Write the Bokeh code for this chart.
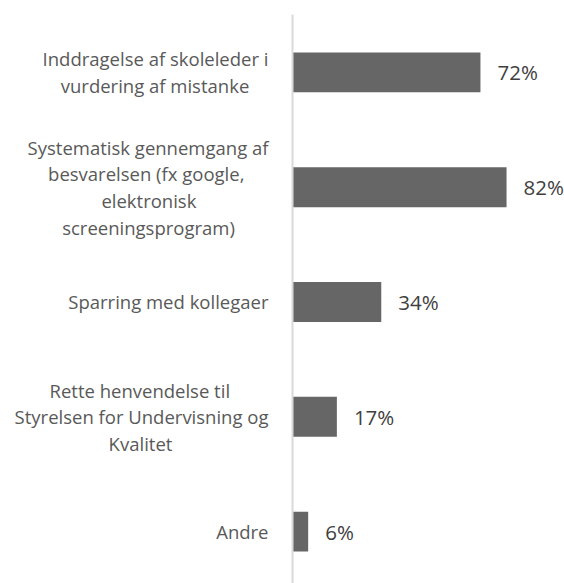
from bokeh.plotting import figure
from bokeh.models import Range1d, FixedTicker, ColumnDataSource
from bokeh.core.properties import value
from bokeh.embed import file_html
from bokeh.resources import INLINE

categories = [
    "Inddragelse af skoleleder i\nvurdering af mistanke",
    "Systematisk gennemgang af\nbesvarelsen (fx google,\nelektronisk\nscreeningsprogram)",
    "Sparring med kollegaer",
    "Rette henvendelse til\nStyrelsen for Undervisning og\nKvalitet",
    "Andre",
]
shares = [0.72, 0.82, 0.34, 0.17, 0.06]
share_labels = ["72%", "82%", "34%", "17%", "6%"]

FONT = "Open Sans"

# approximate Open Sans advance widths (em) used to centre the lines of a
# wrapped label inside its right-aligned block, as the original chart does
_W = {" ": .26, "a": .556, "b": .613, "c": .48, "d": .613, "e": .561, "f": .336,
      "g": .545, "h": .614, "i": .258, "j": .258, "k": .529, "l": .258, "m": .932,
      "n": .614, "o": .603, "p": .613, "r": .409, "s": .477, "t": .352, "u": .614,
      "v": .501, "y": .501, "x": .517, "z": .47, "(": .296, ")": .296, ",": .245,
      "A": .633, "K": .579, "R": .6, "S": .55, "I": .279, "U": .726}
NBSP = "\u00a0"


def _width(s):
    return sum(_W.get(ch, .56) for ch in s)


def centre_lines(label):
    lines = label.split("\n")
    wmax = max(_width(l) for l in lines)
    out = []
    for l in lines:
        pad = int(round((wmax - _width(l)) / 2 / _W[" "]))
        out.append(l + NBSP * pad)
    return "\n".join(out)


idx = list(range(len(categories)))
src = ColumnDataSource(dict(y=idx, v=shares, lab=share_labels))

p = figure(width=564, height=583, output_backend="svg", toolbar_location=None,
           x_range=Range1d(0, 1.042), y_range=Range1d(4.452, -0.504),
           min_border_left=292, min_border_right=0, min_border_top=14, min_border_bottom=0)

p.hbar(y="y", right="v", left=0, height=0.348, source=src,
       fill_color="#666666", line_color=None)
p.text(x="v", y="y", text="lab", source=src, x_offset=17,
       text_baseline="middle", text_align="left",
       text_font=value(FONT), text_font_size="20.5px", text_color="#404040")

p.xaxis.visible = False
p.xgrid.visible = False
p.ygrid.visible = False
p.outline_line_color = None

ax = p.yaxis[0]
ax.ticker = FixedTicker(ticks=idx)
ax.major_label_overrides = {i: centre_lines(c) for i, c in zip(idx, categories)}
ax.major_tick_line_color = None
ax.minor_tick_line_color = None
ax.major_tick_out = 0
ax.major_tick_in = 0
ax.major_label_standoff = 24
ax.axis_line_color = "#d9d9d9"
ax.axis_line_width = 2
ax.major_label_text_font = FONT
ax.major_label_text_font_size = "18.5px"
ax.major_label_text_line_height = 1.07
ax.major_label_text_color = "#595959"

open("out.html", "w").write(file_html(p, INLINE))
